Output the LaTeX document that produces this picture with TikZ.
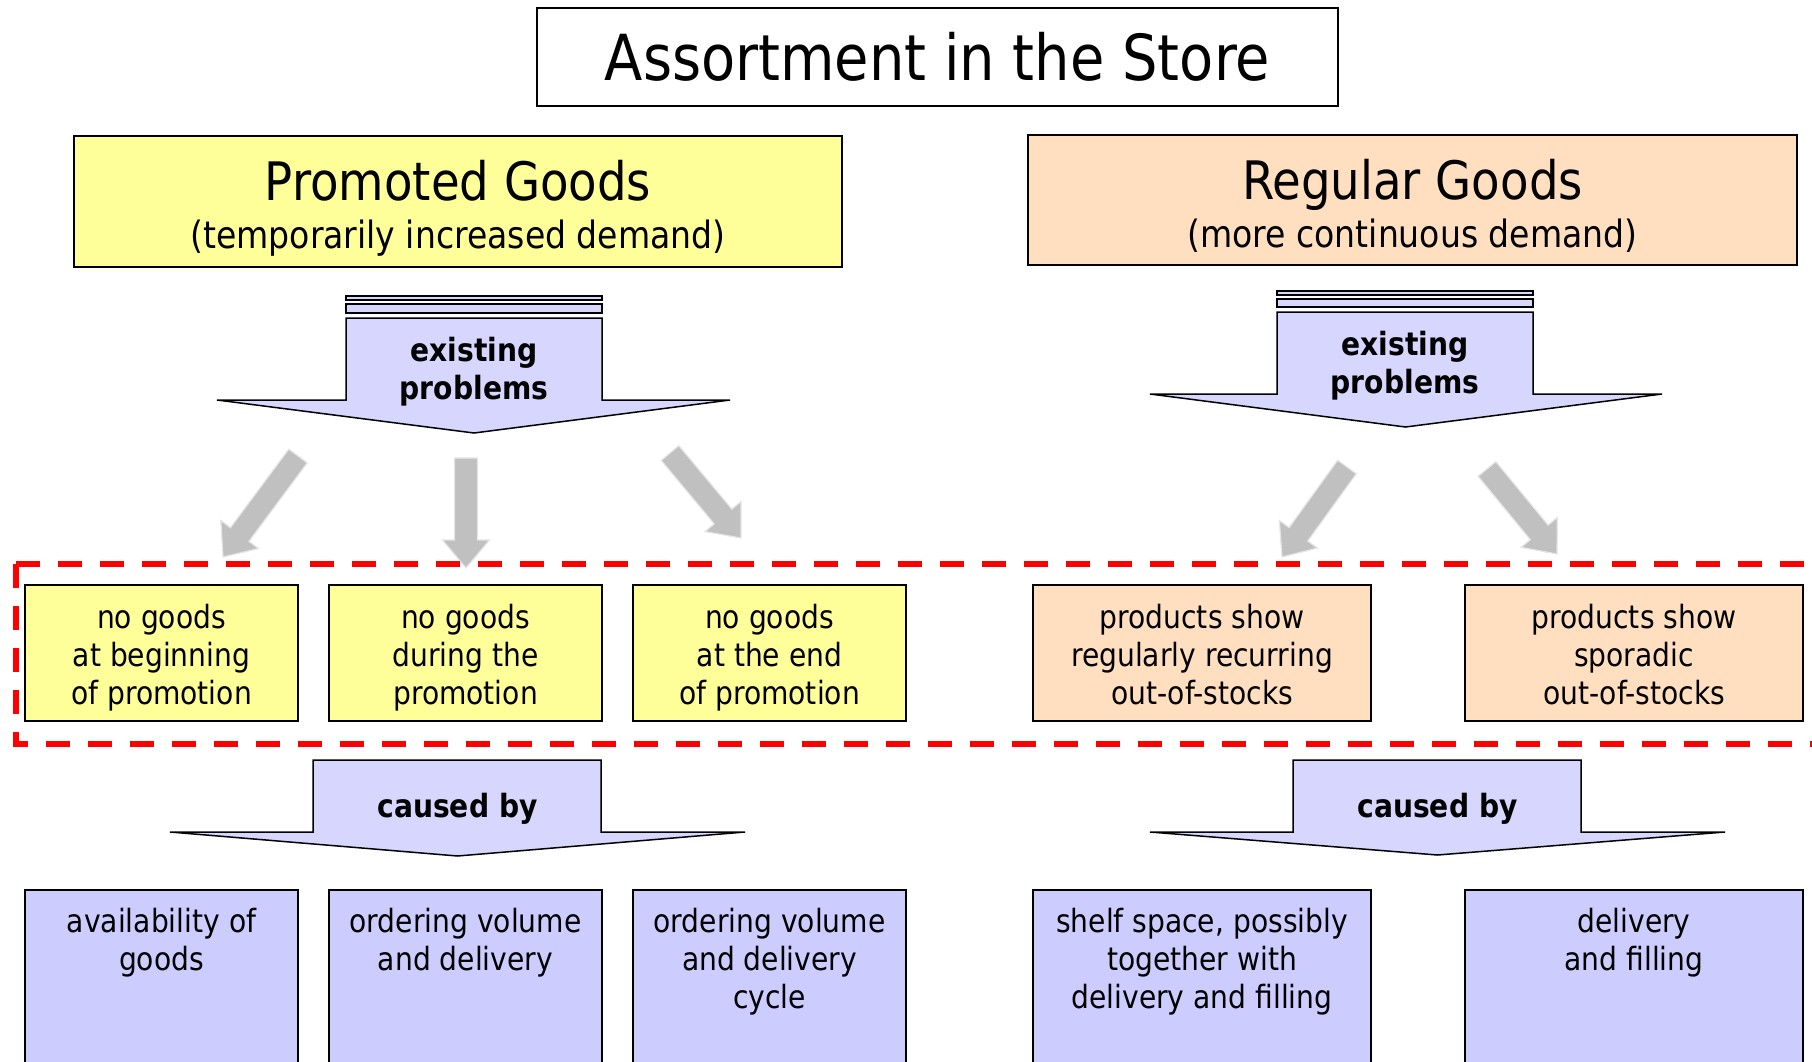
\documentclass[tikz,border=0pt]{standalone}
\usepackage{fontspec}
\setmainfont{DejaVu Sans}[FakeStretch=0.88]
\usetikzlibrary{calc}
\definecolor{pyellow}{HTML}{FFFF99}
\definecolor{rpeach}{HTML}{FFDFBF}
\definecolor{arrlav}{HTML}{D6D6FF}
\definecolor{boxlav}{HTML}{CCCCFF}
\definecolor{garr}{HTML}{C0C0C0}
\definecolor{garrline}{HTML}{E6E6E6}
\definecolor{dashred}{HTML}{FF0000}
\newcommand\garrow[2]{%
  \coordinate (#1h) at ($(#2)!28pt!(#1)$);
  \filldraw[fill=garr, draw=garrline, line width=1.2pt]
    ($(#1)!11.5pt!90:(#2)$) -- ($(#1h)!11.5pt!90:(#2)$) -- ($(#1h)!23.5pt!90:(#2)$)
    -- (#2) -- ($(#1h)!23.5pt!-90:(#2)$) -- ($(#1h)!11.5pt!-90:(#2)$)
    -- ($(#1)!11.5pt!-90:(#2)$) -- cycle;}
\begin{document}
\begin{tikzpicture}[x=1pt,y=-1pt,
  every node/.style={inner sep=0pt},
  framebox/.style={draw=black, line width=1.8pt},
  arrowshape/.style={fill=arrlav, draw=black, line width=1.5pt},
  boxfont/.style={font=\fontsize{32}{38}\selectfont},
  boldfont/.style={font=\bfseries\fontsize{32}{38}\selectfont},
  probbox/.style={framebox, boxfont, minimum width=273pt, minimum height=136pt},
  causebox/.style={framebox, boxfont, fill=boxlav, anchor=north, minimum width=273pt, inner ysep=18.7pt}]
\useasboundingbox (0,0) rectangle (1812,1062);
\fill[white] (0,0) rectangle (1812,1062);

% title
\node[framebox, fill=white, minimum width=801pt, minimum height=98pt,
  font=\fontsize{63.5}{70}\selectfont] (title) at (937.5,57) {\raisebox{-2.5pt}{Assortment in the Store}};

% headers
\node[framebox, fill=pyellow, minimum width=768pt, minimum height=131pt] (promo) at (458,201.5) {};
\node[anchor=base, font=\fontsize{53}{60}\selectfont] (promoT) at (458,200.5) {Promoted Goods};
\node[anchor=base, font=\fontsize{37.6}{44}\selectfont] (promoS) at (458,248.5) {(temporarily increased demand)};
\node[framebox, fill=rpeach, minimum width=769pt, minimum height=130pt] (regu) at (1412.5,200) {};
\node[anchor=base, font=\fontsize{53}{60}\selectfont] (reguT) at (1412.5,199.5) {Regular Goods};
\node[anchor=base, font=\fontsize{37.6}{44}\selectfont] (reguS) at (1412.5,247.5) {(more continuous demand)};

% existing problems arrows
\filldraw[arrowshape] (346,296) rectangle (602,300);
\filldraw[arrowshape] (346,304) rectangle (602,313);
\filldraw[arrowshape] (346,318) -- (602,318) -- (602,400) -- (730,400) -- (474,433)
  -- (217,400) -- (346,400) -- cycle;
\node[boldfont] (epL) at (474,371.5) {\parbox{220pt}{\centering existing\hspace*{11pt}\\problems}};

\filldraw[arrowshape] (1277,291) rectangle (1533,295);
\filldraw[arrowshape] (1277,299) rectangle (1533,307);
\filldraw[arrowshape] (1277,312) -- (1533,312) -- (1533,394) -- (1662,394) -- (1405.5,427)
  -- (1150,394) -- (1277,394) -- cycle;
\node[boldfont] (epR) at (1405,365.5) {\parbox{220pt}{\centering existing\hspace*{10pt}\\problems}};

% gray arrows
\coordinate (ga1s) at (298,456);  \coordinate (ga1e) at (223,557);
\coordinate (ga2s) at (466,458);  \coordinate (ga2e) at (466,568);
\coordinate (ga3s) at (670,453);  \coordinate (ga3e) at (741,538);
\coordinate (ga4s) at (1347,467); \coordinate (ga4e) at (1282,557);
\coordinate (ga5s) at (1487,469); \coordinate (ga5e) at (1557,554);
\garrow{ga1s}{ga1e}
\garrow{ga2s}{ga2e}
\garrow{ga3s}{ga3e}
\garrow{ga4s}{ga4e}
\garrow{ga5s}{ga5e}

% dashed red frame
\draw[dashred, line width=5.5pt, dash pattern=on 24pt off 18pt] (16,564) -- (1840,564);
\draw[dashred, line width=5.5pt, dash pattern=on 24pt off 18pt] (16,564) -- (16,744) -- (1840,744);

% problem boxes
\node[probbox, fill=pyellow] (p1) at (161.5,653) {\parbox{260pt}{\vspace*{10pt}\centering no goods\\at beginning\\of promotion}};
\node[probbox, fill=pyellow] (p2) at (465.5,653) {\parbox{260pt}{\vspace*{10pt}\centering no goods\\during the\\promotion}};
\node[probbox, fill=pyellow] (p3) at (769.5,653) {\parbox{260pt}{\vspace*{10pt}\centering no goods\\at the end\\of promotion}};
\node[probbox, fill=rpeach, minimum width=338pt] (p4) at (1202,653) {\parbox{320pt}{\vspace*{4pt}\centering products show\\regularly recurring\\out-of-stocks}};
\node[probbox, fill=rpeach, minimum width=338pt] (p5) at (1634,653) {\parbox{320pt}{\vspace*{4pt}\centering products show\\sporadic\\out-of-stocks}};

% caused by arrows
\filldraw[arrowshape] (313,760) -- (601,760) -- (601,832) -- (745,832) -- (457.5,856)
  -- (170,832) -- (313,832) -- cycle;
\node[boldfont] (cbL) at (457.5,808.5) {caused by};
\filldraw[arrowshape] (1293,760) -- (1581,760) -- (1581,832) -- (1725,832) -- (1437.5,855)
  -- (1150,832) -- (1293,832) -- cycle;
\node[boldfont] (cbR) at (1437.5,808.5) {caused by};

% cause boxes
\node[causebox] (c1) at (161.5,889) {\parbox[t][190pt][t]{260pt}{\centering availability of\\goods}};
\node[causebox] (c2) at (465.5,889) {\parbox[t][190pt][t]{260pt}{\centering ordering volume\\and delivery}};
\node[causebox] (c3) at (769.5,889) {\parbox[t][190pt][t]{260pt}{\centering ordering volume\\and delivery\\cycle}};
\node[causebox, minimum width=338pt] (c4) at (1202,889) {\parbox[t][190pt][t]{320pt}{\centering shelf space, possibly\\together with\\delivery and filling}};
\node[causebox, minimum width=338pt] (c5) at (1634,889) {\parbox[t][190pt][t]{320pt}{\centering delivery\\and filling}};
\end{tikzpicture}
\end{document}
